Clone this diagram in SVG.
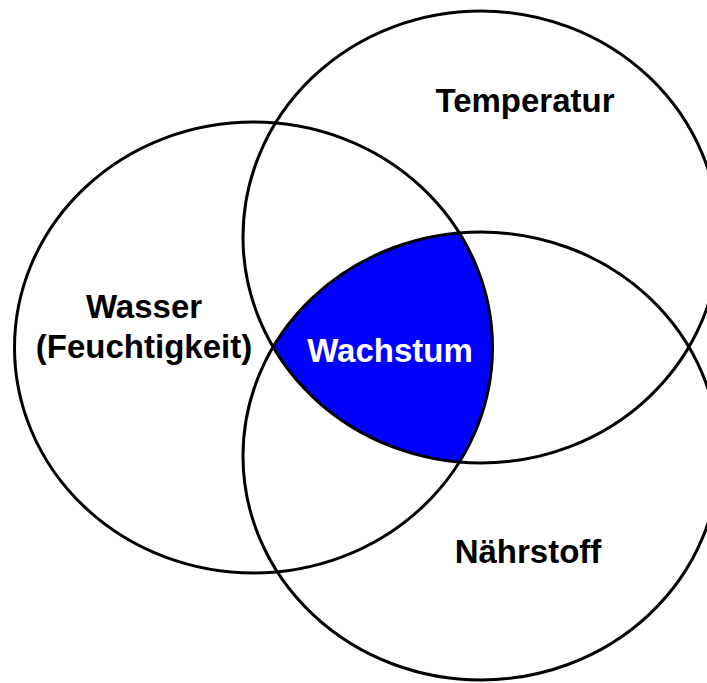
<svg xmlns="http://www.w3.org/2000/svg" width="707" height="683" viewBox="0 0 707 683">
<style>
.c{fill:none;stroke:#000;stroke-width:3}
.t{font-family:"Liberation Sans",Arial,sans-serif;font-weight:bold;font-size:33px;text-anchor:middle;fill:#000}
</style>
<defs>
<clipPath id="cT"><ellipse cx="481" cy="237" rx="238" ry="226"/></clipPath>
<clipPath id="cN"><ellipse cx="481" cy="456" rx="238" ry="224"/></clipPath>
</defs>
<rect width="707" height="683" fill="#fff"/>
<g id="intersection" clip-path="url(#cT)">
<ellipse cx="253.5" cy="347.5" rx="239" ry="225.5" fill="#0000FF" clip-path="url(#cN)"/>
</g>
<g id="wasser">
<ellipse class="c" cx="253.5" cy="347.5" rx="239" ry="225.5"/>
<text class="t" x="144" y="318">Wasser</text>
<text class="t" x="144" y="358">(Feuchtigkeit)</text>
</g>
<g id="temperatur">
<ellipse class="c" cx="481" cy="237" rx="238" ry="226"/>
<text class="t" x="525" y="112">Temperatur</text>
</g>
<g id="naehrstoff">
<ellipse class="c" cx="481" cy="456" rx="238" ry="224"/>
<text class="t" x="528" y="563">Nährstoff</text>
</g>
<g id="wachstum">
<text class="t" x="390" y="362" style="fill:#fff">Wachstum</text>
</g>
</svg>
